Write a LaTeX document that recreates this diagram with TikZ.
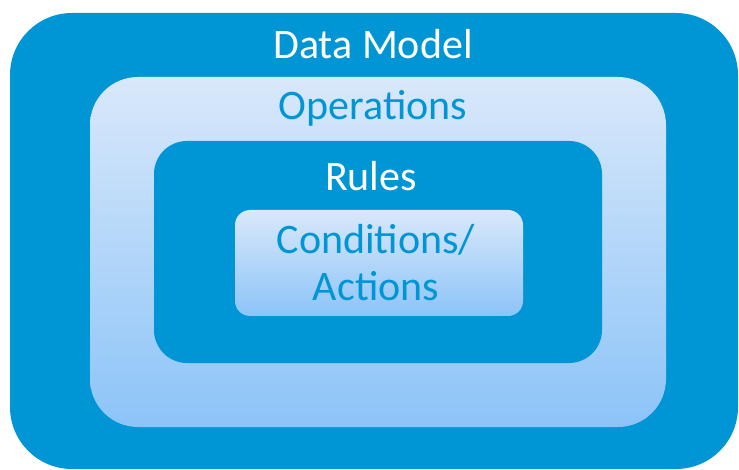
\documentclass[tikz,border=0pt]{standalone}
\usepackage{fontspec}
\setmainfont{Carlito}
\definecolor{ModelBlue}{HTML}{0096D6}
\definecolor{PaleTop}{HTML}{D9E8FA}
\definecolor{PaleBottom}{HTML}{8CC4F8}
\usetikzlibrary{positioning}
\tikzset{
  darkbox/.style={fill=ModelBlue, inner sep=0pt},
  lightbox/.style={top color=PaleTop, bottom color=PaleBottom, inner sep=0pt},
  whitelabel/.style={text=white, inner sep=0pt, font=\fontsize{42}{47}\selectfont},
  bluelabel/.style={text=ModelBlue, inner sep=0pt, align=center, font=\fontsize{42}{47}\selectfont}
}

\begin{document}
\begin{tikzpicture}[x=1pt,y=-1pt]
  \useasboundingbox (0,0) rectangle (739,470);

  \node[darkbox, rounded corners=62pt, minimum width=728pt, minimum height=456pt] (model) at (374,241) {};
  \node[lightbox, rounded corners=48pt, minimum width=576pt, minimum height=350pt] (ops) at (378,252) {};
  \node[darkbox, rounded corners=33pt, minimum width=448pt, minimum height=222pt] (rules) at (378,252) {};
  \node[lightbox, rounded corners=15pt, minimum width=288pt, minimum height=106pt] (cond) at (379,263) {};

  \node[whitelabel, anchor=base] (modelLabel) at (373,59) {Data Model};
  \node[bluelabel, anchor=base] (opsLabel) at (373,120) {Operations};
  \node[whitelabel, anchor=base] (rulesLabel) at (371,191) {Rules};
  \node[bluelabel, anchor=north] (condLabel) at (376,224) {Conditions/\\Actions};
\end{tikzpicture}
\end{document}
